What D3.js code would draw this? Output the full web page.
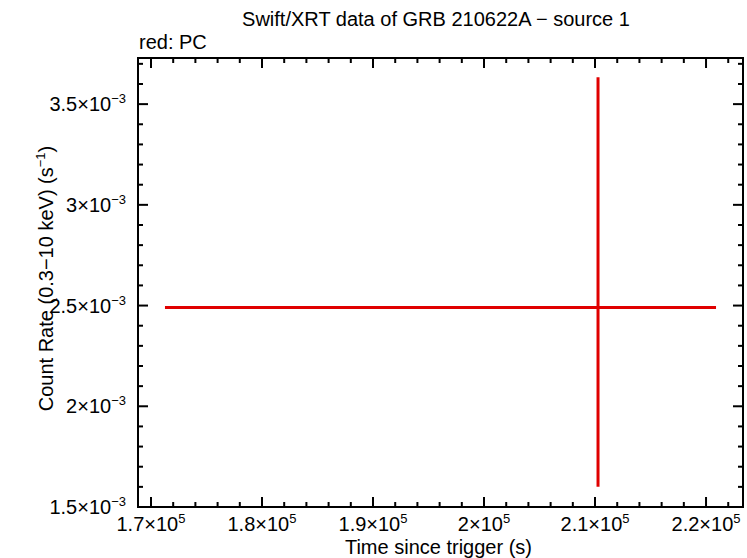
<!DOCTYPE html>
<html><head><meta charset="utf-8">
<script src="https://cdn.jsdelivr.net/npm/d3@7"></script>
<style>body{margin:0;background:#fff}</style>
</head><body><svg id="c" width="747" height="558"></svg>
<script>
const timeVal = [2.1027e5];
const timeLo = [1.7126e5];
const timeHi = [2.209e5];
const rateVal = [2.49e-3];
const rateLo = [1.60e-3];
const rateHi = [3.634e-3];
const xMajor = [1.7e5, 1.8e5, 1.9e5, 2.0e5, 2.1e5, 2.2e5];
const xLabels = ["1.7", "1.8", "1.9", "2", "2.1", "2.2"];
const yMajor = [1.5e-3, 2e-3, 2.5e-3, 3e-3, 3.5e-3];
const yLabels = ["1.5", "2", "2.5", "3", "3.5"];

const svg = d3.select("#c");
const L = 138, R = 743, T = 58, B = 507;
const x = d3.scaleLinear().domain([1.6883e5, 2.2333e5]).range([L, R]);
const y = d3.scaleLinear().domain([1.5e-3, 3.729e-3]).range([B, T]);
const font = "'Liberation Sans', Arial, sans-serif";

const xMinor = d3.range(1.7e5, 2.234e5, 2e3);
const yMinor = d3.range(1.5e-3, 3.73e-3, 1e-4);
const g = svg.append("g").attr("stroke", "#000").attr("stroke-width", 2);
xMinor.forEach((v, i) => {
  const len = i % 5 === 0 ? 10 : 5;
  g.append("line").attr("x1", x(v)).attr("x2", x(v)).attr("y1", B).attr("y2", B - len);
  g.append("line").attr("x1", x(v)).attr("x2", x(v)).attr("y1", T).attr("y2", T + len);
});
yMinor.forEach((v, i) => {
  const len = i % 5 === 0 ? 10 : 5;
  g.append("line").attr("y1", y(v)).attr("y2", y(v)).attr("x1", L).attr("x2", L + len);
  g.append("line").attr("y1", y(v)).attr("y2", y(v)).attr("x1", R).attr("x2", R - len);
});
svg.append("rect").attr("x", L).attr("y", T).attr("width", R - L).attr("height", B - T)
  .attr("fill", "none").attr("stroke", "#000").attr("stroke-width", 2);

xMajor.forEach((v, i) => {
  const t = svg.append("text").attr("x", x(v)).attr("y", B + 24).attr("text-anchor", "middle")
    .attr("font-family", font).attr("font-size", 20);
  t.append("tspan").text(xLabels[i] + "×10");
  t.append("tspan").text("5").attr("font-size", 13).attr("dy", -8);
});
yMajor.forEach((v, i) => {
  const t = svg.append("text").attr("x", L - 12).attr("y", y(v) + 7).attr("text-anchor", "end")
    .attr("font-family", font).attr("font-size", 20);
  t.append("tspan").text(yLabels[i] + "×10");
  t.append("tspan").text("−3").attr("font-size", 13).attr("dy", -8);
});

svg.append("text").attr("x", (L + R) / 2 - 2).attr("y", 554).attr("text-anchor", "middle")
  .attr("font-family", font).attr("font-size", 20).text("Time since trigger (s)");
const yl = svg.append("text").attr("transform", `translate(53,${(T + B) / 2 - 4}) rotate(-90)`)
  .attr("text-anchor", "middle").attr("font-family", font).attr("font-size", 20);
yl.append("tspan").text("Count Rate (0.3−10 keV) (s");
yl.append("tspan").text("−1").attr("font-size", 13).attr("dy", -8);
yl.append("tspan").text(")").attr("dy", 8);
svg.append("text").attr("x", 436).attr("y", 26).attr("text-anchor", "middle")
  .attr("font-family", font).attr("font-size", 20).text("Swift/XRT data of GRB 210622A − source 1");
svg.append("text").attr("x", 139).attr("y", 49).attr("font-family", font).attr("font-size", 20).text("red: PC");

const d = svg.append("g").attr("stroke", "#e00000").attr("stroke-width", 3);
timeVal.forEach((t, i) => {
  d.append("line").attr("x1", x(timeLo[i])).attr("x2", x(timeHi[i])).attr("y1", y(rateVal[i])).attr("y2", y(rateVal[i]));
  d.append("line").attr("x1", x(t)).attr("x2", x(t)).attr("y1", y(rateLo[i])).attr("y2", y(rateHi[i]));
});
</script></body></html>
